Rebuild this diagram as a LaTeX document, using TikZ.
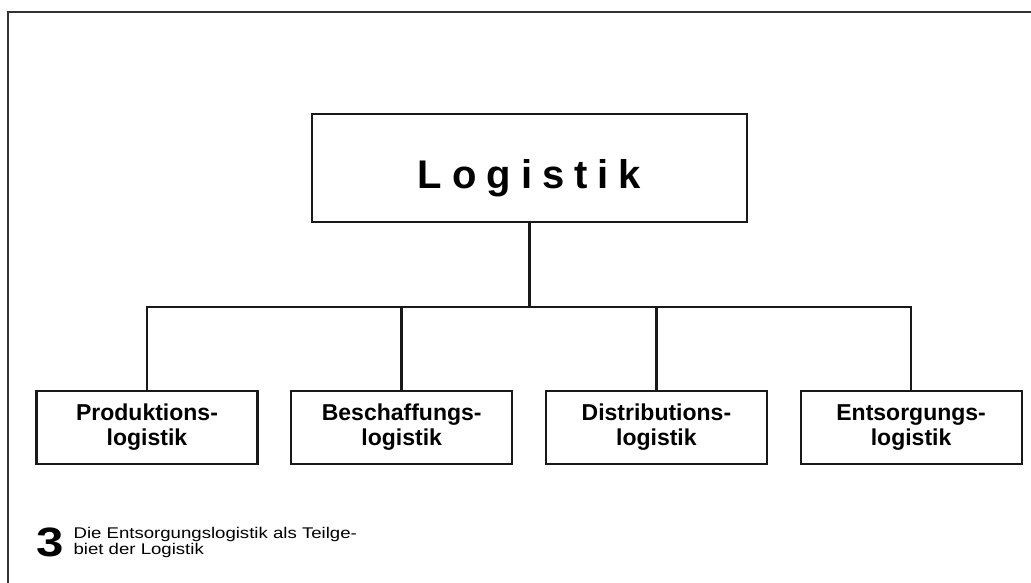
\documentclass[tikz,border=0pt]{standalone}
\usepackage{fontspec}
\setmainfont{Liberation Sans}
\newfontfamily\spacedfont[LetterSpace=25]{Liberation Sans}
\newfontfamily\captionfont[FakeStretch=1.2]{Liberation Sans}
\usepackage{tikz}
\usetikzlibrary{positioning}

\begin{document}
\begin{tikzpicture}[
    x=1pt, y=-1pt,
    node distance=8mm and 31.5pt,
    headbox/.style={draw=black!90, line width=2.2pt, minimum width=435pt,
        minimum height=108pt, inner sep=0pt, text height=46pt, text depth=4pt,
        font=\fontsize{40}{44}\selectfont\bfseries\spacedfont},
    partbox/.style={draw=black!90, line width=2.2pt, align=center,
        minimum width=221pt, minimum height=73pt, inner sep=0pt,
        font=\fontsize{23}{25}\selectfont\bfseries},
    link/.style={draw=black!90, line width=2.6pt},
    frame/.style={draw=black!80, line width=1.6pt}
]
\useasboundingbox (0,0) rectangle (1031,583);
\draw[frame] (1031,12) -- (8,12) -- (8,583);

\node[headbox] (logistik) at (529.5,168) {Logistik};

\node[partbox] (produktion) at (147,427.5) {Produktions-\\logistik};
\node[partbox, right=of produktion] (beschaffung) {Beschaffungs-\\logistik};
\node[partbox, right=of beschaffung] (distribution) {Distributions-\\logistik};
\node[partbox, right=of distribution] (entsorgung) {Entsorgungs-\\logistik};

\coordinate (bus) at (529.5,307);
\draw[link] (logistik) -- (bus);
\draw[link] (produktion.north) |- (bus);
\draw[link] (entsorgung.north) |- (bus);
\draw[link] (beschaffung.north) -- (beschaffung.north |- bus);
\draw[link] (distribution.north) -- (distribution.north |- bus);

\node[font=\fontsize{41}{41}\selectfont\bfseries\captionfont, inner sep=0pt] (nummer) at (50.5,542.5) {3};
\node[right=9pt of nummer.east, anchor=west, align=left, inner sep=0pt,
    font=\fontsize{15.5}{15.5}\selectfont\captionfont] (caption)
    {Die Entsorgungslogistik als Teilge-\\biet der Logistik};
\end{tikzpicture}
\end{document}
